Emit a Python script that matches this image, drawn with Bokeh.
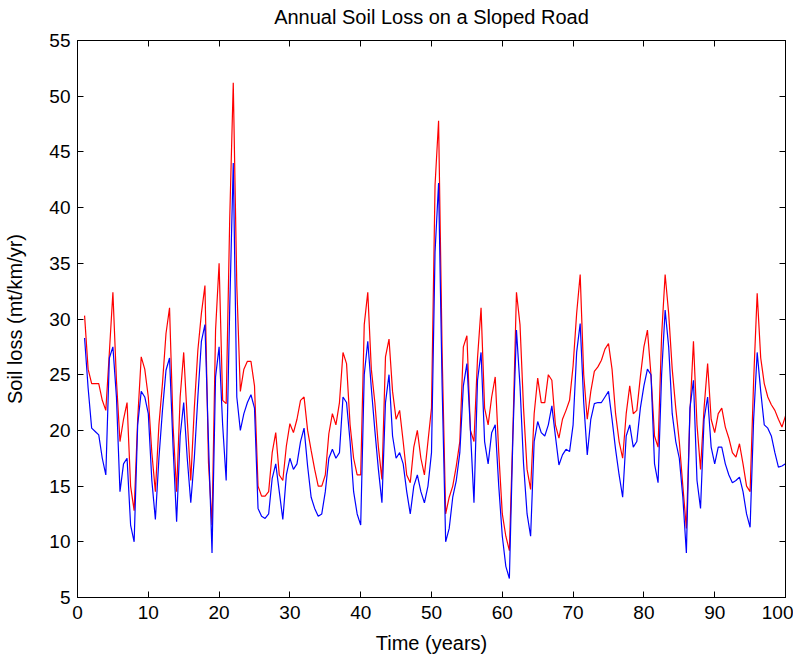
import numpy as np
from bokeh.plotting import figure
from bokeh.models import Range1d, LinearAxis, FixedTicker
from bokeh.embed import file_html
from bokeh.resources import INLINE

# time axis: half-year samples from year 1 to year 100
years = np.arange(1.0, 100.5, 0.5)

# upper series (red)
soil_loss_red = [
    30.3, 25.5, 24.2, 24.2, 24.2, 22.7, 21.8, 27.0, 32.4, 24.5,
    19.0, 21.0, 22.5, 15.0, 12.8, 21.0, 26.6, 25.5, 23.0, 18.0,
    14.5, 20.5, 24.2, 28.7, 31.0, 20.4, 14.5, 23.0, 27.0, 21.0,
    15.5, 22.0, 27.2, 30.5, 33.0, 17.1, 11.5, 29.0, 35.0, 22.7,
    22.4, 39.0, 51.2, 33.0, 23.5, 25.5, 26.2, 26.2, 24.0, 15.0,
    14.1, 14.1, 14.5, 18.0, 19.8, 16.0, 15.5, 18.6, 20.6, 19.8,
    21.0, 22.7, 23.0, 20.0, 18.2, 16.5, 15.0, 15.0, 16.0, 19.7,
    21.5, 20.5, 22.5, 27.0, 26.0, 20.5, 17.5, 16.0, 16.0, 29.5,
    32.4, 25.5, 22.5, 18.5, 15.6, 26.6, 28.2, 23.5, 21.0, 21.8,
    19.0, 16.0, 15.3, 18.5, 20.0, 17.5, 16.0, 19.0, 22.0, 42.0,
    47.8, 27.0, 12.5, 14.0, 15.0, 16.8, 19.0, 27.5, 28.5, 20.0,
    19.0, 26.5, 31.0, 22.0, 20.5, 23.0, 24.8, 18.0, 12.5, 10.5,
    9.2, 20.0, 32.4, 29.5, 22.0, 16.5, 14.7, 21.5, 24.7, 22.5,
    22.5, 25.0, 24.5, 20.5, 19.3, 21.0, 21.8, 22.7, 25.8, 30.5,
    34.0, 25.0, 21.0, 23.5, 25.3, 25.7, 26.3, 27.3, 27.8, 25.5,
    21.5, 19.0, 17.5, 21.5, 24.0, 21.5, 21.8, 24.8, 27.5, 29.0,
    25.0, 19.5, 18.5, 28.5, 34.0, 30.5, 25.5, 22.0, 19.0, 15.0,
    11.2, 21.5, 28.0, 20.5, 16.5, 22.0, 26.0, 21.0, 19.8, 21.5,
    22.0, 20.3, 19.3, 18.0, 17.6, 18.8, 17.0, 15.0, 14.5, 24.5,
    32.3, 26.5, 24.2, 23.0, 22.3, 21.8, 21.0, 20.3, 21.3,
]

# lower series (blue)
soil_loss_blue = [
    28.3, 23.8, 20.2, 19.9, 19.6, 17.5, 16.0, 26.5, 27.5, 23.0,
    14.5, 17.0, 17.5, 11.5, 10.0, 20.5, 23.5, 23.0, 21.5, 15.5,
    12.0, 17.5, 21.8, 25.4, 26.5, 18.5, 11.8, 19.5, 22.5, 17.5,
    13.5, 17.5, 23.0, 28.0, 29.5, 19.0, 9.0, 24.8, 27.5, 20.5,
    15.5, 31.0, 44.0, 23.0, 20.0, 21.5, 22.5, 23.2, 22.0, 13.0,
    12.3, 12.1, 12.5, 15.7, 17.0, 14.5, 12.0, 16.0, 17.5, 16.5,
    17.0, 19.0, 20.2, 16.8, 14.0, 13.0, 12.3, 12.5, 14.5, 17.5,
    18.3, 17.5, 18.0, 23.0, 22.5, 19.0, 14.5, 12.5, 11.5, 25.0,
    28.0, 23.8, 20.0, 16.5, 13.5, 22.5, 25.0, 19.5, 17.5, 18.0,
    17.0, 14.5, 12.5, 15.0, 16.0, 14.5, 13.5, 15.0, 18.0, 36.0,
    42.2, 24.0, 10.0, 11.2, 14.0, 15.5, 18.0, 24.0, 26.0, 20.0,
    13.5, 24.5, 27.0, 19.0, 17.0, 19.8, 20.5, 15.0, 10.5, 7.8,
    6.7, 19.5, 29.0, 24.0, 17.0, 12.5, 10.5, 19.0, 20.8, 19.8,
    19.5, 20.5, 22.2, 19.5, 16.9, 17.8, 18.3, 18.1, 20.5, 27.0,
    29.6, 22.5, 17.8, 21.0, 22.4, 22.5, 22.5, 23.0, 23.5, 21.0,
    18.3, 16.0, 14.0, 19.5, 20.5, 18.5, 19.0, 22.0, 24.0, 25.5,
    25.0, 17.0, 15.3, 25.0, 30.8, 27.5, 21.5, 19.0, 17.5, 14.0,
    9.0, 22.0, 24.5, 15.5, 13.0, 21.0, 23.0, 18.5, 17.0, 18.5,
    18.5, 17.0, 16.0, 15.3, 15.5, 15.8, 14.5, 12.5, 11.3, 21.0,
    27.0, 23.5, 20.5, 20.2, 19.5, 18.0, 16.7, 16.8, 17.0,
]

x_ticks = [0, 10, 20, 30, 40, 50, 60, 70, 80, 90, 100]
y_ticks = [5, 10, 15, 20, 25, 30, 35, 40, 45, 50, 55]
title_text = "Annual Soil Loss on a Sloped Road"

FONT = "Liberation Sans"

p = figure(
    width=793, height=656,
    output_backend="svg", toolbar_location=None,
    x_range=Range1d(0, 100), y_range=Range1d(5, 55),
    min_border_left=77, min_border_right=8,
    min_border_top=40, min_border_bottom=58,
)

p.xgrid.visible = False
p.ygrid.visible = False
p.outline_line_color = "black"
p.outline_line_width = 1
p.outline_line_alpha = 1.0
p.background_fill_color = "white"
p.border_fill_color = "white"

p.line(years, soil_loss_red, line_color="#ff0000", line_width=1.2)
p.line(years, soil_loss_blue, line_color="#0000ff", line_width=1.2)

def style_axis(ax, ticks, show_labels):
    ax.ticker = FixedTicker(ticks=ticks)
    ax.major_tick_in = 6
    ax.major_tick_out = 0
    ax.minor_tick_in = 0
    ax.minor_tick_out = 0
    ax.axis_line_color = "black"
    ax.major_tick_line_color = "black"
    ax.major_label_text_font = FONT
    ax.major_label_text_font_size = "19px"
    ax.major_label_text_color = "black"
    ax.axis_label_text_font = FONT
    ax.axis_label_text_font_size = "20px"
    ax.axis_label_text_font_style = "normal"
    ax.axis_label_text_color = "black"
    if not show_labels:
        ax.major_label_text_alpha = 0
        ax.major_label_text_font_size = "1px"
        ax.major_label_standoff = 0
        ax.axis_label_standoff = 0

style_axis(p.xaxis[0], x_ticks, True)
style_axis(p.yaxis[0], y_ticks, True)
p.xaxis[0].axis_label = "Time (years)"
p.yaxis[0].axis_label = "Soil loss (mt/km/yr)"
p.xaxis[0].major_label_standoff = 8
p.yaxis[0].major_label_standoff = 7
p.xaxis[0].axis_label_standoff = 10
p.yaxis[0].axis_label_standoff = 20

top_ax = LinearAxis()
right_ax = LinearAxis()
style_axis(top_ax, x_ticks, False)
style_axis(right_ax, y_ticks, False)
# the chart title is carried by the top (box) axis, centred over the frame
top_ax.axis_label = title_text
top_ax.axis_label_text_font_size = "20px"
top_ax.axis_label_standoff = 13
p.add_layout(top_ax, "above")
p.add_layout(right_ax, "right")

open("out.html", "w").write(file_html(p, INLINE))
